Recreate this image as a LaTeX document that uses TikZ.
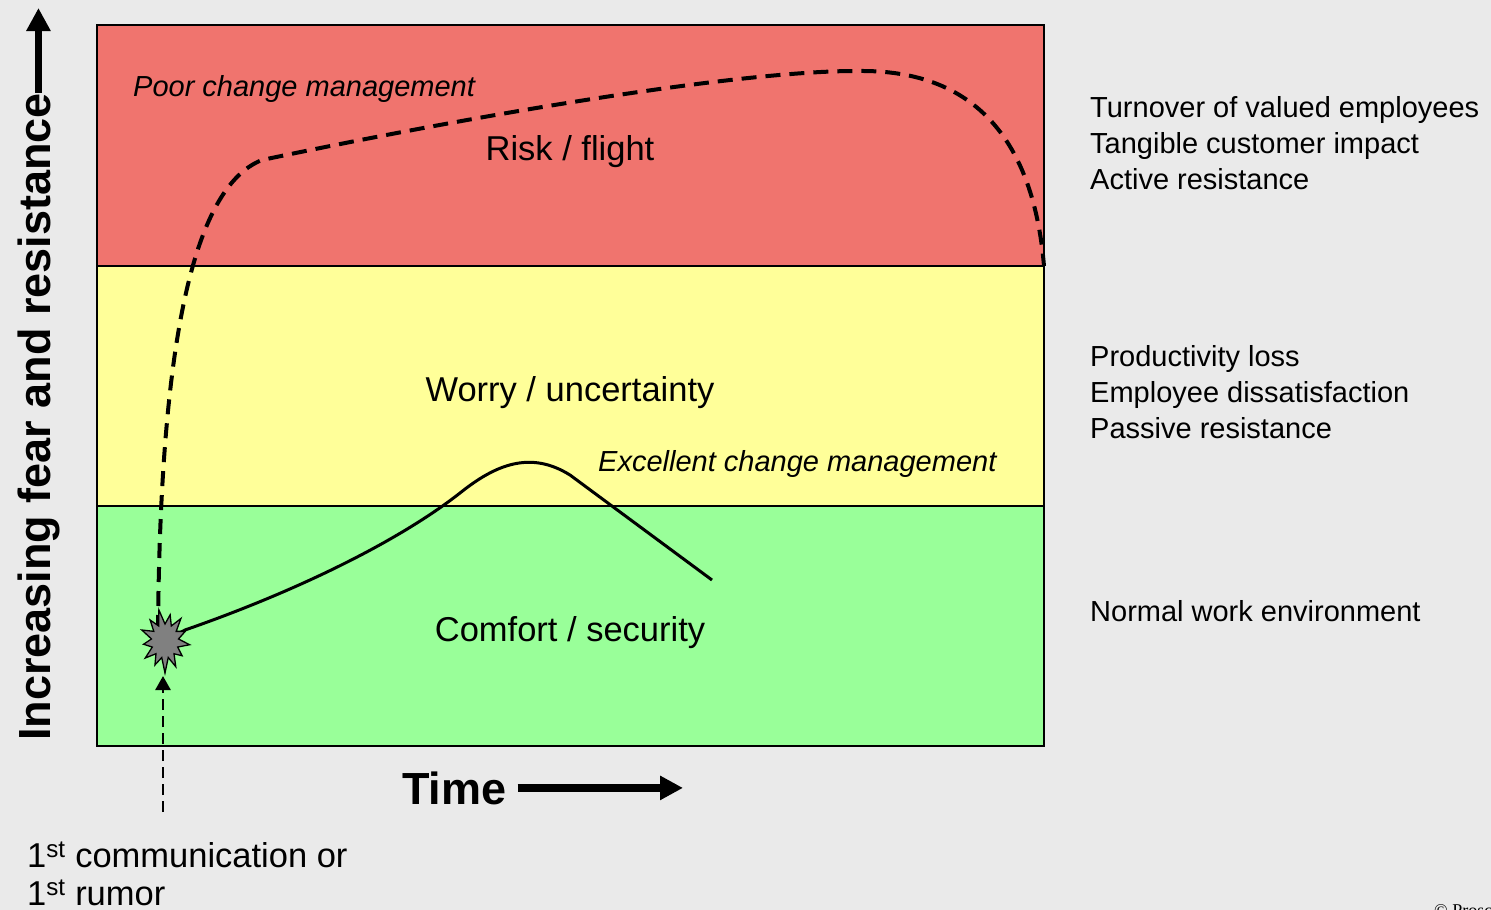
\documentclass[tikz,border=0pt]{standalone}
\usepackage{fontspec}
\setmainfont{Liberation Sans}
\newfontfamily\notefont{Liberation Serif}
\usetikzlibrary{arrows.meta}

\definecolor{bggray}{HTML}{EAEAEA}
\definecolor{riskred}{HTML}{F0746E}
\definecolor{worryyellow}{HTML}{FFFF99}
\definecolor{comfortgreen}{HTML}{99FF99}
\definecolor{burstgray}{HTML}{808080}

\begin{document}
\begin{tikzpicture}[x=1pt,y=-1pt,
  bandline/.style={draw=black,line width=1.4pt},
  zonelabel/.style={font=\fontsize{34.5}{40}\selectfont,anchor=base,inner sep=0pt},
  curvelabel/.style={font=\fontsize{29}{36}\selectfont\itshape,anchor=base west,inner sep=0pt},
  sidetext/.style={font=\fontsize{29}{36}\selectfont,anchor=base west,inner sep=0pt},
  bigbold/.style={font=\fontsize{45}{50}\selectfont\bfseries,inner sep=0pt},
  notetext/.style={font=\fontsize{34.5}{40}\selectfont,anchor=base west,inner sep=0pt},
  thickarrow/.style={line width=7.5pt,-{Triangle[length=23pt,width=23pt]}},
  dasharrow/.style={line width=2.6pt,dash pattern=on 11pt off 6pt,-{Triangle[length=14pt,width=15pt]}},
  poorcurve/.style={line width=4pt,dash pattern=on 15pt off 9pt},
  goodcurve/.style={line width=3pt},
  burstshape/.style={fill=burstgray,draw=black,line width=1.3pt,line join=miter}
]
% page and background
\useasboundingbox[fill=bggray] (0,0) rectangle (1491,910);

% three zones
\coordinate (zoneTL) at (97,25);
\coordinate (zoneR1) at (1044,266);
\coordinate (zoneL2) at (97,266);
\coordinate (zoneR2) at (1044,506);
\coordinate (zoneL3) at (97,506);
\coordinate (zoneBR) at (1044,746);
\fill[riskred] (zoneTL) rectangle (zoneR1);
\fill[worryyellow] (zoneL2) rectangle (zoneR2);
\fill[comfortgreen] (zoneL3) rectangle (zoneBR);
\draw[bandline] (zoneTL) rectangle (zoneBR);
\draw[bandline] (zoneL2) -- (zoneR1);
\draw[bandline] (zoneL3) -- (zoneR2);

% zone labels
\node[zonelabel] (risk) at (570,160) {Risk / flight};
\node[zonelabel] (worry) at (570,401) {Worry / uncertainty};
\node[zonelabel] (comfort) at (570,641) {Comfort / security};
\node[curvelabel] (poor) at (133,96) {Poor change management};
\node[curvelabel] (excellent) at (598,471) {Excellent change management};

% consequences per zone
\node[sidetext] (s1) at (1090,117) {Turnover of valued employees};
\node[sidetext] (s2) at (1090,153) {Tangible customer impact};
\node[sidetext] (s3) at (1090,189) {Active resistance};
\node[sidetext] (s4) at (1090,366) {Productivity loss};
\node[sidetext] (s5) at (1090,402) {Employee dissatisfaction};
\node[sidetext] (s6) at (1090,438) {Passive resistance};
\node[sidetext] (s7) at (1090,621) {Normal work environment};

% curves starting at the trigger event
\coordinate (burstc) at (165,641);
\draw[poorcurve] (158,630) .. controls (160,380) and (185,190) .. (262,160)
  .. controls (500,110) and (750,70) .. (860,71)
  .. controls (990,70) and (1035,160) .. (zoneR1);
\draw[goodcurve] (burstc) -- (185,630) .. controls (300,590) and (400,540) .. (460,493)
  .. controls (495,465) and (530,450) .. (570,475) -- (712,580);

% the trigger event: an irregular starburst
\draw[burstshape,shift={(burstc)},xscale=0.8]
  (90:32) -- (103.8:17) -- (117.7:27) -- (131.5:17) -- (145.4:30) -- (159.2:17)
  -- (173.1:27) -- (186.9:17) -- (200.8:31) -- (214.6:17) -- (228.5:28) -- (242.3:17)
  -- (256.2:32) -- (270:17) -- (283.8:27) -- (297.7:17) -- (311.5:30) -- (325.4:17)
  -- (339.2:27) -- (353.1:17) -- (6.9:31) -- (20.8:17) -- (34.6:26) -- (48.5:17)
  -- (62.3:29) -- (76.2:17) -- cycle;

% trigger
\coordinate (rumor) at (163,812);
\coordinate (burstbase) at (163,676);
\draw[dasharrow] (rumor) -- (burstbase);
\node[notetext] (n1) at (27,867) {1\textsuperscript{st} communication or};
\node[notetext] (n2) at (27,905) {1\textsuperscript{st} rumor};

% axes
\node[bigbold,rotate=90,anchor=base west] (yaxis) at (50,741) {Increasing fear and resistance};
\coordinate (ytip) at (36,8);
\draw[thickarrow] (yaxis.east) -- (yaxis.east |- ytip);
\node[bigbold,anchor=base west] (time) at (402,804) {Time};
\coordinate (timetip) at (683,787);
\draw[thickarrow] ([xshift=11pt]time.east) -- (timetip |- time.east);

% copyright mark at the page corner
\node[font=\notefont\fontsize{18}{20}\selectfont,anchor=north west,inner sep=0pt] (copy) at (1434,904) {\textcopyright\ Prosci};
\end{tikzpicture}
\end{document}
